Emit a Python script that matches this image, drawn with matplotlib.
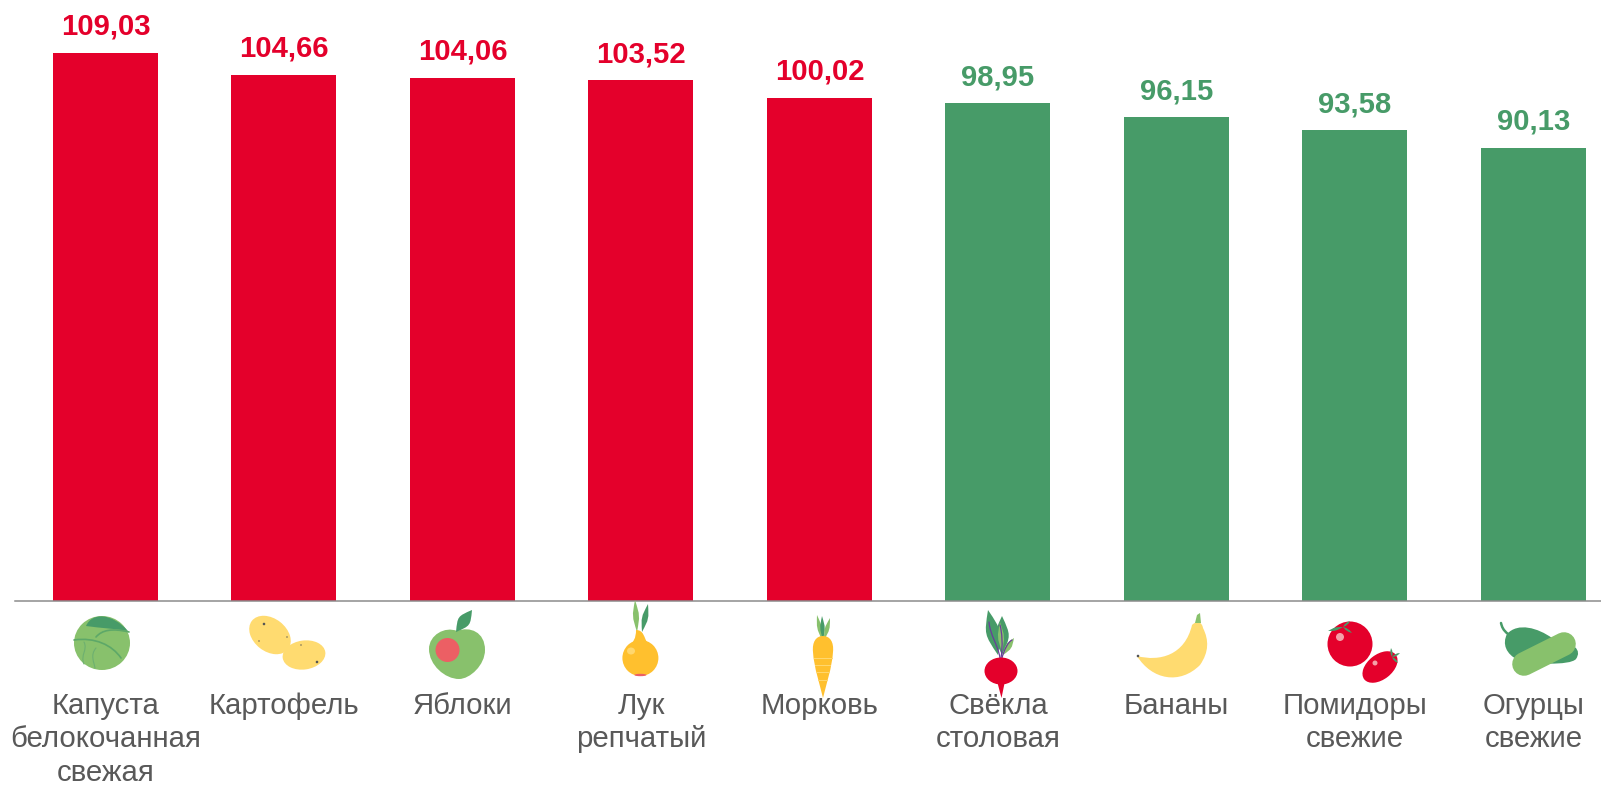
import matplotlib

matplotlib.use("Agg")
import matplotlib.pyplot as plt
from matplotlib.patches import Circle, Ellipse, PathPatch, Polygon, Rectangle
from matplotlib.path import Path

categories = [
    "Капуста\nбелокочанная\nсвежая",
    "Картофель",
    "Яблоки",
    "Лук\nрепчатый",
    "Морковь",
    "Свёкла\nстоловая",
    "Бананы",
    "Помидоры\nсвежие",
    "Огурцы\nсвежие",
]
values = [109.03, 104.66, 104.06, 103.52, 100.02, 98.95, 96.15, 93.58, 90.13]
value_labels = ["109,03", "104,66", "104,06", "103,52", "100,02", "98,95", "96,15", "93,58", "90,13"]

RED = "#E4002B"
GREEN = "#479B68"
LIGHT_GREEN = "#88C16C"
YELLOW = "#FFDB70"
ORANGE = "#FFC02E"
PINK = "#EC5F64"
PURPLE = "#6A3D9A"
TEXT = "#595959"

W, H = 1601, 785
BASE_Y = 601
X0, STEP, BAR_W = 105.4, 178.5, 105
PX_PER_UNIT = 5.03

plt.rcParams["font.family"] = ["Liberation Sans", "DejaVu Sans"]


def curve(icons, points, color, closed=True, lw=0.0):
    """points: start point, then bezier control points; closed shapes end back at the start"""
    codes = [Path.MOVETO] + [Path.CURVE4] * (len(points) - 1)
    if closed:
        points = points + [points[0], points[0]]
        codes = codes + [Path.CURVE4, Path.CLOSEPOLY]
    icons.add_patch(
        PathPatch(
            Path(points, codes),
            facecolor=color if closed else "none",
            edgecolor=color,
            linewidth=lw,
            capstyle="round",
        )
    )


def leaf(icons, p0, p1, width, color):
    mx, my = (p0[0] + p1[0]) / 2, (p0[1] + p1[1]) / 2
    dx, dy = p1[0] - p0[0], p1[1] - p0[1]
    length = (dx * dx + dy * dy) ** 0.5
    nx, ny = -dy / length * width, dx / length * width
    curve(
        icons,
        [p0, (mx + nx, my + ny), (mx + nx, my + ny), p1, (mx - nx, my - ny), (mx - nx, my - ny)],
        color,
    )


def draw_cabbage(icons):
    icons.add_patch(Ellipse((102, 643), 56, 54, facecolor=LIGHT_GREEN))
    curve(icons, [(86, 626), (92, 612), (112, 613), (128, 631), (118, 629), (100, 628)], GREEN)
    curve(icons, [(74, 640), (95, 637), (112, 645), (121, 658)], "#5DA868", closed=False, lw=1.2)
    curve(icons, [(96, 637), (102, 630), (112, 628), (129, 632)], "#5DA868", closed=False, lw=1.2)
    curve(icons, [(84, 642), (88, 650), (80, 655), (84, 664)], "#6DB070", closed=False, lw=0.8)
    curve(icons, [(96, 648), (90, 655), (94, 662), (95, 668)], "#6DB070", closed=False, lw=0.8)


def draw_potatoes(icons):
    icons.add_patch(Ellipse((270, 635), 46, 33, angle=38, facecolor=YELLOW))
    icons.add_patch(Ellipse((304, 655), 43, 29, angle=-8, facecolor=YELLOW))
    for x, y, r in [(264, 624, 1.3), (259, 641, 0.7), (287, 637, 0.7), (301, 645, 0.7), (317, 662, 1.3)]:
        icons.add_patch(Circle((x, y), r, facecolor="#555555"))


def draw_apple(icons):
    curve(
        icons,
        [(457, 631), (470, 626), (485, 632), (485, 650), (485, 665), (470, 679), (459, 679),
         (445, 679), (429, 665), (429, 649), (429, 635), (445, 626)],
        LIGHT_GREEN,
    )
    icons.add_patch(Circle((447.5, 650), 12, facecolor=PINK))
    leaf(icons, (456, 632), (472, 610), 8, GREEN)


def draw_onion(icons):
    leaf(icons, (637, 632), (635, 600), 4, LIGHT_GREEN)
    leaf(icons, (642, 632), (648, 604), 4, GREEN)
    curve(icons, [(636, 630), (636, 638), (634, 642), (626, 650), (640, 660), (655, 650),
                  (647, 642), (644, 638), (644, 630)], ORANGE)
    icons.add_patch(Circle((640.4, 658), 18, facecolor=ORANGE))
    icons.add_patch(Ellipse((631, 651), 8, 7, facecolor="#FFD76E"))
    icons.add_patch(Ellipse((640.4, 675), 12, 2.4, facecolor=PINK))


def draw_carrot(icons):
    leaf(icons, (822, 640), (817, 615), 3, LIGHT_GREEN)
    leaf(icons, (823, 640), (822, 616), 3, GREEN)
    leaf(icons, (824, 640), (830, 618), 3, LIGHT_GREEN)
    curve(
        icons,
        [(823, 636), (830, 636), (834, 642), (833, 652), (832, 668), (826, 685), (823, 698),
         (820, 685), (814, 668), (813, 652), (812, 642), (816, 636)],
        ORANGE,
    )
    for y in [658, 665, 672, 680]:
        half = 9.5 - (y - 658) * 0.2
        icons.add_patch(Rectangle((823 - half, y), half * 2, 1, facecolor="#FFD76E"))


def draw_beet(icons):
    leaf(icons, (998, 655), (988, 610), 9, GREEN)
    leaf(icons, (1002, 655), (1002, 616), 9, GREEN)
    leaf(icons, (1002, 652), (1000, 622), 4, LIGHT_GREEN)
    leaf(icons, (1003, 655), (1014, 638), 4, LIGHT_GREEN)
    curve(icons, [(1000, 658), (998, 645), (990, 635), (989, 622)], PURPLE, closed=False, lw=0.9)
    curve(icons, [(1001, 658), (1003, 645), (1002, 632), (1000, 625)], PURPLE, closed=False, lw=0.9)
    curve(icons, [(1002, 658), (1004, 650), (1008, 642), (1012, 640)], PURPLE, closed=False, lw=0.9)
    icons.add_patch(Ellipse((1001, 671), 33, 27, facecolor=RED))
    icons.add_patch(Polygon([(997, 681), (1005, 681), (1001.5, 698)], facecolor=RED))


def draw_banana(icons):
    curve(
        icons,
        [(1137, 656), (1160, 662), (1185, 655), (1192, 625), (1197, 620), (1202, 622), (1203, 628),
         (1209, 640), (1209, 652), (1200, 665), (1180, 685), (1152, 680)],
        YELLOW,
    )
    icons.add_patch(Polygon([(1195, 623), (1197, 615), (1200, 613), (1201, 623)], facecolor=LIGHT_GREEN))
    icons.add_patch(Circle((1138, 656), 1.3, facecolor="#555555"))


def draw_tomatoes(icons):
    icons.add_patch(Circle((1350, 644), 22.5, facecolor=RED))
    icons.add_patch(Ellipse((1380, 667), 40, 25, angle=-38, facecolor=RED))
    icons.add_patch(Circle((1340, 637), 4, facecolor="#F4A0A8"))
    icons.add_patch(Circle((1375, 663), 2.5, facecolor="#F4A0A8"))
    leaf(icons, (1343, 627), (1328, 631), 2, GREEN)
    leaf(icons, (1343, 627), (1350, 621), 1.5, GREEN)
    leaf(icons, (1343, 627), (1352, 633), 1.5, GREEN)
    leaf(icons, (1392, 657), (1400, 653), 1.5, GREEN)
    leaf(icons, (1392, 657), (1391, 648), 1.5, GREEN)
    leaf(icons, (1392, 657), (1398, 663), 1.5, GREEN)


def draw_cucumbers(icons):
    curve(
        icons,
        [(1507, 634), (1518, 622), (1538, 628), (1552, 638), (1575, 643), (1582, 650), (1576, 659),
         (1570, 666), (1530, 664), (1518, 660), (1506, 654), (1502, 644)],
        GREEN,
    )
    curve(icons, [(1508, 634), (1503, 630), (1502, 627), (1501, 623)], GREEN, closed=False, lw=1.8)
    icons.plot([1524, 1564], [664, 644], color=LIGHT_GREEN, linewidth=17, solid_capstyle="round")


fig = plt.figure(figsize=(W / 100, H / 100), dpi=100, facecolor="white")

ax = fig.add_axes([15 / W, (H - BASE_Y) / H, (W - 15) / W, BASE_Y / H])
x = list(range(len(values)))
colors = [RED if v >= 100 else GREEN for v in values]
ax.bar(x, values, width=BAR_W / STEP, color=colors)
ax.set_xlim((15 - X0) / STEP, (W - X0) / STEP)
ax.set_ylim(0, BASE_Y / PX_PER_UNIT)

for i, v in enumerate(values):
    ax.annotate(
        value_labels[i],
        (i, v),
        xytext=(0, 13),
        textcoords="offset points",
        ha="center",
        va="baseline",
        fontsize=21.1,
        fontweight="bold",
        color=colors[i],
        annotation_clip=False,
    )

for side in ["top", "left", "right"]:
    ax.spines[side].set_visible(False)
ax.spines["bottom"].set_color("#8C8C8C")
ax.spines["bottom"].set_linewidth(1.1)
ax.set_yticks([])
ax.set_xticks(x)
ax.set_xticklabels(categories, fontsize=21.2, color=TEXT, linespacing=1.24)
ax.tick_params(axis="x", length=0, pad=65.5)

# food pictures sit on a second axes measured in reference pixels
icons = fig.add_axes([0, 0, 1, 1], facecolor="none")
for draw in [
    draw_cabbage,
    draw_potatoes,
    draw_apple,
    draw_onion,
    draw_carrot,
    draw_beet,
    draw_banana,
    draw_tomatoes,
    draw_cucumbers,
]:
    draw(icons)
icons.set_xlim(0, W)
icons.set_ylim(H, 0)
icons.axis("off")

fig.savefig("out.png", dpi=100)
